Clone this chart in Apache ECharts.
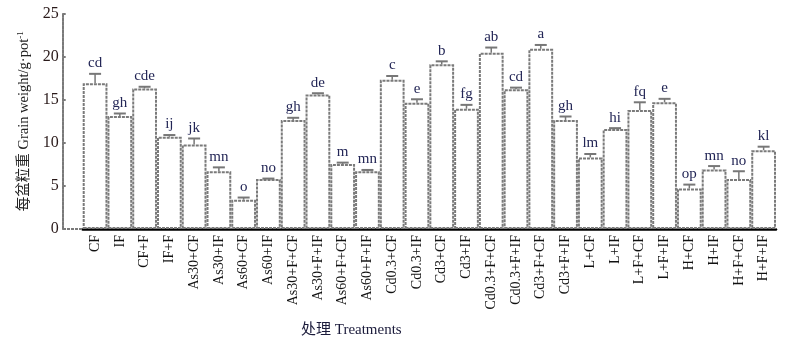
<!DOCTYPE html>
<html><head><meta charset="utf-8">
<script src="https://cdn.jsdelivr.net/npm/echarts@6/dist/echarts.min.js"></script>
<style>html,body{margin:0;padding:0;background:#fff}#c{width:794px;height:344px}</style>
</head><body><div id="c"></div>
<script>
const categories = ['CF','IF','CF+F','IF+F','As30+CF','As30+IF','As60+CF','As60+IF','As30+F+CF','As30+F+IF','As60+F+CF','As60+F+IF','Cd0.3+CF','Cd0.3+IF','Cd3+CF','Cd3+IF','Cd0.3+F+CF','Cd0.3+F+IF','Cd3+F+CF','Cd3+F+IF','L+CF','L+IF','L+F+CF','L+F+IF','H+CF','H+IF','H+F+CF','H+F+IF'];
const grainWeight = [16.9,13.1,16.3,10.7,9.8,6.7,3.4,5.8,12.65,15.6,7.55,6.7,17.3,14.65,19.1,13.95,20.45,16.2,20.9,12.65,8.3,11.6,13.8,14.7,4.7,6.9,5.8,9.15];
const errorSD = [1.1,0.3,0.2,0.2,0.7,0.45,0.25,0.05,0.25,0.15,0.15,0.15,0.45,0.4,0.35,0.45,0.6,0.2,0.45,0.4,0.4,0.1,0.9,0.4,0.45,0.4,0.9,0.4];
const sigLetters = ['cd','gh','cde','ij','jk','mn','o','no','gh','de','m','mn','c','e','b','fg','ab','cd','a','gh','lm','hi','fq','e','op','mn','no','kl'];
const yTicks = {min:0, max:25, interval:5};

const serif = "'Liberation Serif','Noto Sans CJK SC',serif";
const chart = echarts.init(document.getElementById('c'), null, {renderer:'canvas'});
const errData = grainWeight.map((v,i)=>[i, v, v+errorSD[i], sigLetters[i]]);
chart.setOption({
  animation:false,
  grid:{left:82.7, right:18, top:13.5, bottom:115, containLabel:false},
  title:{text:'处理 Treatments', left:296, top:318, textStyle:{fontFamily:serif, fontSize:15, fontWeight:'normal', color:'#1a1a3a'}},
  xAxis:{type:'category', data:categories, boundaryGap:true,
    axisLine:{lineStyle:{color:'#000', width:2.5}},
    axisTick:{show:false},
    axisLabel:{rotate:90, interval:0, margin:6, fontFamily:serif, fontSize:14, color:'#111'}},
  yAxis:{type:'value', min:yTicks.min, max:yTicks.max, interval:yTicks.interval, offset:20,
    name:'{a|每盆粒重 Grain weight/g·pot}{s|-1}', nameLocation:'middle', nameGap:29, nameRotate:90,
    nameTextStyle:{rich:{a:{fontFamily:serif, fontSize:14.5, color:'#222'}, s:{fontFamily:serif, fontSize:9, color:'#222', verticalAlign:'top', padding:[0,0,8,0]}}},
    axisLine:{show:true, lineStyle:{color:'#7a7a7a', width:2, type:[3,1]}},
    axisTick:{show:true, inside:true, length:3, lineStyle:{color:'#7a7a7a', width:2}},
    axisLabel:{margin:4, fontFamily:serif, fontSize:16, color:'#2a1a1a'},
    splitLine:{show:false}},
  graphic:[{type:'line', shape:{x1:63, y1:229, x2:83, y2:229}, style:{stroke:'#7a7a7a', lineWidth:2, lineDash:[3,1]}, z:10}],
  series:[
    {type:'bar', data:grainWeight, barCategoryGap:'0%', barWidth:'100%',
     itemStyle:{color:'#fff', borderColor:'#7a7a7a', borderWidth:2, borderType:[3,1]}},
    {type:'custom', data:errData, z:5,
     renderItem:(params, api)=>{
       const x = api.value(0);
       const top = api.coord([x, api.value(1)]);
       const cap = api.coord([x, api.value(2)]);
       const hw = 6;
       return {type:'group', children:[
         {type:'line', shape:{x1:top[0], y1:top[1], x2:cap[0], y2:cap[1]}, style:{stroke:'#777', lineWidth:1.5}},
         {type:'line', shape:{x1:cap[0]-hw, y1:cap[1], x2:cap[0]+hw, y2:cap[1]}, style:{stroke:'#777', lineWidth:2}},
         {type:'text', x:cap[0], y:cap[1]-3, style:{text:api.value(3), fontFamily:serif, fontSize:15, fill:'#232656', align:'center', verticalAlign:'bottom'}}
       ]};
     }}
  ]
});
</script></body></html>
